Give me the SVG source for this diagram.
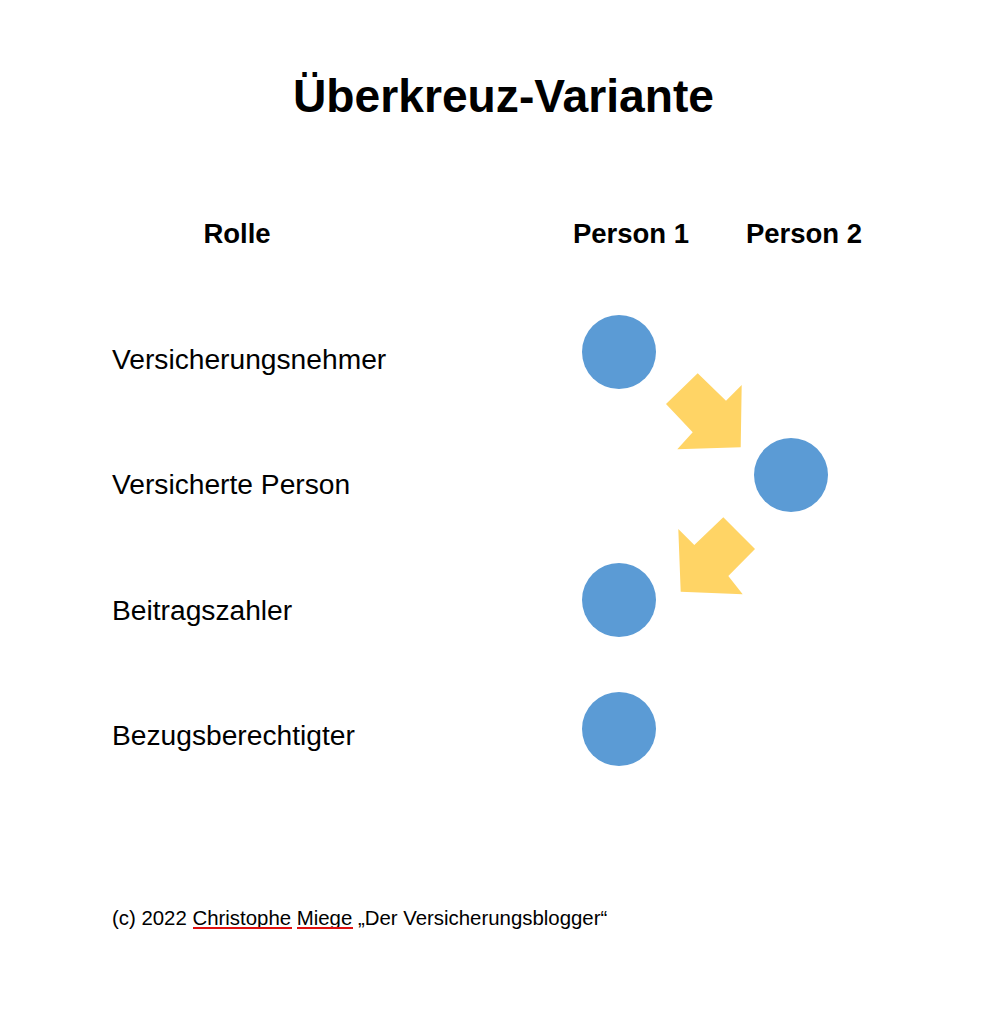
<svg xmlns="http://www.w3.org/2000/svg" width="991" height="1024" viewBox="0 0 991 1024">
<style>
text{font-family:"Liberation Sans",Arial,sans-serif;fill:#000}
.title{font-size:46.2px;font-weight:bold}
.head{font-size:27.5px;font-weight:bold}
.lbl{font-size:28.2px}
.foot{font-size:20.4px}
.dot{fill:#5B9BD5}
.arr{fill:#FFD465}
.spell{stroke:#E01010;stroke-width:2;fill:none}
</style>
<rect width="991" height="1024" fill="#fff"/>
<g id="title"><text class="title" x="503.5" y="112" text-anchor="middle">Überkreuz-Variante</text></g>
<g id="headers">
<text class="head" x="237" y="243" text-anchor="middle">Rolle</text>
<text class="head" x="631" y="243" text-anchor="middle">Person 1</text>
<text class="head" x="804" y="243" text-anchor="middle">Person 2</text>
</g>
<g id="roles">
<text class="lbl" x="112" y="368.5">Versicherungsnehmer</text>
<text class="lbl" x="112" y="493.5">Versicherte Person</text>
<text class="lbl" x="112" y="619.5">Beitragszahler</text>
<text class="lbl" x="112" y="744.5">Bezugsberechtigter</text>
</g>
<g id="node-vn-p1"><circle class="dot" cx="619" cy="352" r="37"/></g>
<g id="node-vp-p2"><circle class="dot" cx="791" cy="475" r="37"/></g>
<g id="node-bz-p1"><circle class="dot" cx="619" cy="600" r="37"/></g>
<g id="node-bb-p1"><circle class="dot" cx="619" cy="729" r="37"/></g>
<g id="connectors">
<polygon class="arr" points="697.7,373.3 726,400.7 741.7,385 740.7,447.3 677.3,449.3 692.7,432.3 666,404"/>
<polygon class="arr" points="723.3,517.3 755,549 728.3,576 742.7,594.3 680.7,591.7 678.3,529 694.3,545"/>
</g>
<g id="footer">
<text class="foot" x="112" y="925">(c) 2022 Christophe Miege „Der Versicherungsblogger“</text>
<path class="spell" d="M193,928 L292,928"/>
<path class="spell" d="M297,928 L353,928"/>
</g>
</svg>
